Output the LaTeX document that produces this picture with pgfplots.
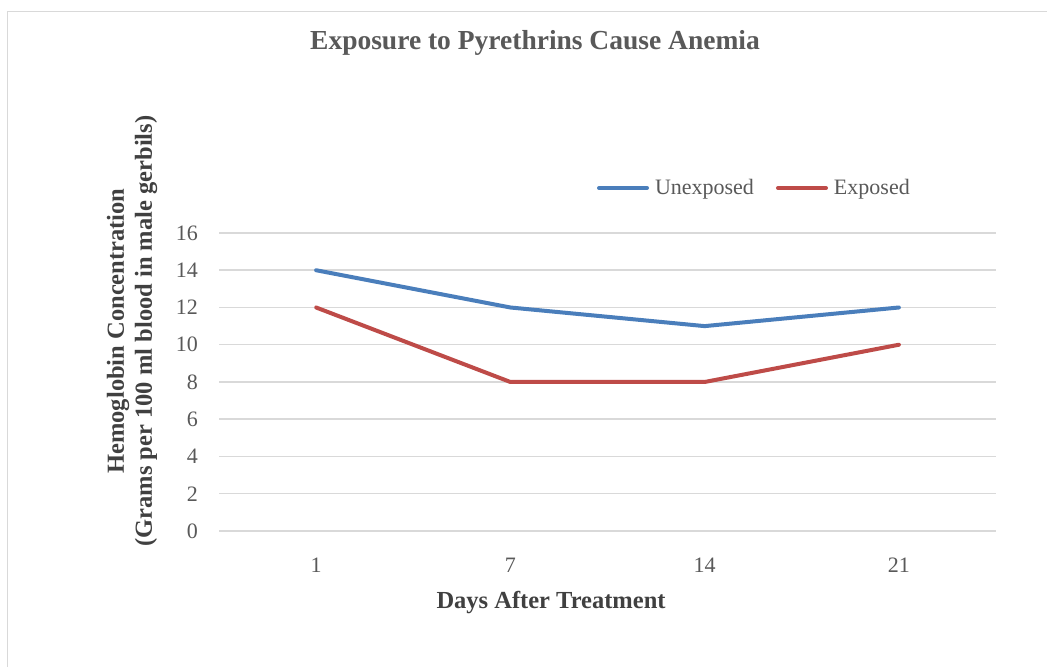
\documentclass[border=0pt]{standalone}
\usepackage{pgfplots}
\pgfplotsset{compat=1.18}
\usepackage{fontspec}
\setmainfont{Liberation Serif}
\definecolor{txt}{HTML}{595959}
\definecolor{labtxt}{HTML}{404040}
\definecolor{gridc}{HTML}{D9D9D9}
\definecolor{framec}{HTML}{D9D9D9}
\definecolor{ublue}{HTML}{4A7EBB}
\definecolor{ered}{HTML}{BE4B48}
\begin{document}
\begin{tikzpicture}[x=1bp,y=1bp]
\useasboundingbox (0,0) rectangle (1047,667);
\fill[white] (0,0) rectangle (1047,667);
\draw[framec, line width=1.5bp] (7.5,-20) rectangle (1070,655.5);
\begin{axis}[
  at={(219bp,136bp)}, anchor=south west,
  scale only axis, width=777bp, height=298bp,
  xmin=-0.5, xmax=3.5, ymin=0, ymax=16,
  xtick={0,1,2,3}, xticklabels={1,7,14,21},
  ytick={0,2,...,16},
  axis line style={draw=none},
  major tick length=0pt,
  ymajorgrids, grid style={gridc, line width=1.5bp},
  /pgf/number format/assume math mode=true,
  tick label style={font=\fontsize{22bp}{26bp}\selectfont, text=txt},
  yticklabel style={anchor=east, inner sep=0pt, xshift=-21bp},
  xticklabel style={anchor=north, inner sep=0pt, yshift=-27bp},
  xlabel={Days After Treatment},
  xlabel style={at={(axis description cs:0.4273,-0.2584)}, anchor=base, inner sep=0pt,
    font=\bfseries\fontsize{24.5bp}{28bp}\selectfont, text=labtxt},
  ylabel={Hemoglobin Concentration\\(Grams per 100 ml blood in male gerbils)},
  ylabel style={at={(axis description cs:-0.112,0.671)}, anchor=center, align=center, inner sep=0pt,
    font=\bfseries\fontsize{24.5bp}{28bp}\selectfont, text=labtxt},
  title={Exposure to Pyrethrins Cause Anemia},
  title style={at={(axis description cs:0.4067,1.597)}, anchor=base, inner sep=0pt,
    font=\bfseries\fontsize{27.5bp}{32bp}\selectfont, text=txt},
  legend style={at={(axis description cs:0.4865,1.151)}, anchor=west, draw=none, fill=none,
    inner sep=0pt, outer sep=0pt, font=\fontsize{22bp}{26bp}\selectfont, text=txt,
    nodes={inner sep=0pt}, /tikz/every even column/.append style={column sep=22bp}},
  legend columns=2,
  legend cell align=left,
  legend image code/.code={\draw[#1] (0bp,0bp) -- (48bp,0bp); \path (54bp,0bp);},
  clip=false,
]
\addplot[ublue, line width=4bp, line join=round, line cap=round] coordinates {(0,14) (1,12) (2,11) (3,12)};
\addlegendentry{Unexposed}
\addplot[ered, line width=4bp, line join=round, line cap=round] coordinates {(0,12) (1,8) (2,8) (3,10)};
\addlegendentry{Exposed}
\end{axis}
\end{tikzpicture}
\end{document}
